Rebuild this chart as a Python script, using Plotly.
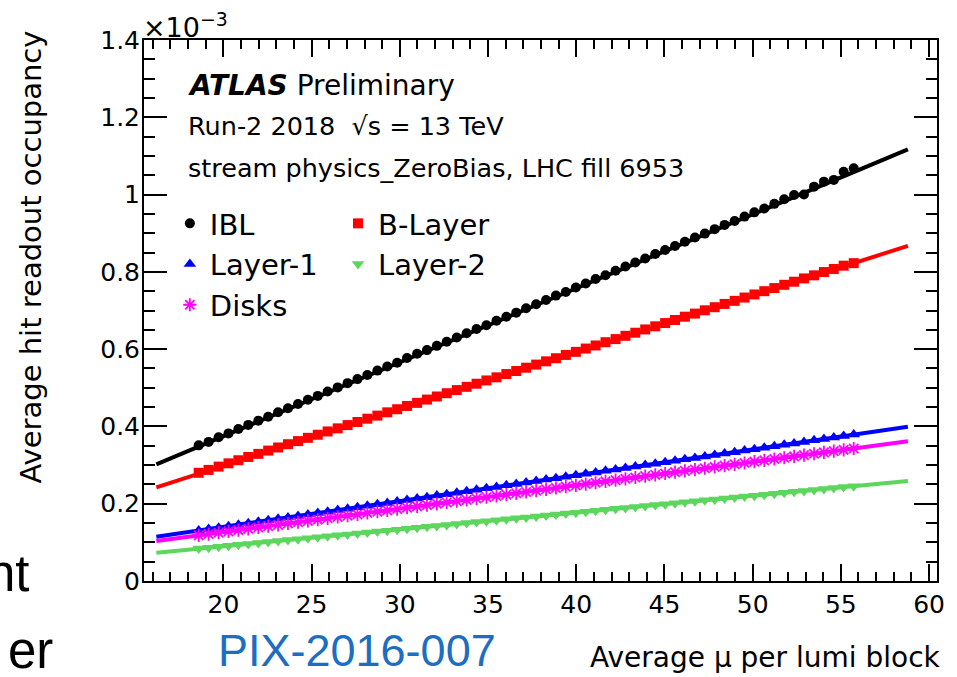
import plotly.graph_objects as go

# Average pile-up per luminosity block (bin centres)
mu = [
    18.60, 19.16, 19.73, 20.29, 20.85, 21.41, 21.98, 22.54, 23.10, 23.66,
    24.23, 24.79, 25.35, 25.91, 26.48, 27.04, 27.60, 28.16, 28.73, 29.29,
    29.85, 30.41, 30.98, 31.54, 32.10, 32.66, 33.23, 33.79, 34.35, 34.91,
    35.48, 36.04, 36.60, 37.16, 37.73, 38.29, 38.85, 39.41, 39.98, 40.54,
    41.10, 41.66, 42.23, 42.79, 43.35, 43.91, 44.48, 45.04, 45.60, 46.16,
    46.73, 47.29, 47.85, 48.41, 48.98, 49.54, 50.10, 50.66, 51.23, 51.79,
    52.35, 52.91, 53.48, 54.04, 54.60, 55.16, 55.73,
]

# Average hit readout occupancy, in units of 1e-3
occ_ibl = [
    0.3510, 0.3600, 0.3720, 0.3820, 0.3935, 0.4040, 0.4150, 0.4250, 0.4365, 0.4470,
    0.4580, 0.4690, 0.4790, 0.4905, 0.5010, 0.5120, 0.5225, 0.5330, 0.5445, 0.5550,
    0.5650, 0.5770, 0.5880, 0.5975, 0.6085, 0.6190, 0.6300, 0.6410, 0.6520, 0.6620,
    0.6735, 0.6840, 0.6945, 0.7060, 0.7160, 0.7270, 0.7385, 0.7480, 0.7595, 0.7700,
    0.7815, 0.7910, 0.8030, 0.8140, 0.8240, 0.8345, 0.8460, 0.8565, 0.8670, 0.8780,
    0.8890, 0.8990, 0.9105, 0.9215, 0.9315, 0.9430, 0.9540, 0.9640, 0.9760, 0.9880,
    0.9990, 1.0000, 1.0205, 1.0335, 1.0380, 1.0590, 1.0680,
]
occ_blayer = [
    0.2800, 0.2875, 0.2960, 0.3045, 0.3125, 0.3210, 0.3290, 0.3375, 0.3455, 0.3540,
    0.3620, 0.3705, 0.3785, 0.3870, 0.3950, 0.4035, 0.4115, 0.4200, 0.4280, 0.4365,
    0.4445, 0.4530, 0.4610, 0.4695, 0.4775, 0.4860, 0.4940, 0.5025, 0.5105, 0.5190,
    0.5270, 0.5355, 0.5435, 0.5520, 0.5600, 0.5685, 0.5765, 0.5850, 0.5930, 0.6015,
    0.6095, 0.6180, 0.6260, 0.6345, 0.6425, 0.6510, 0.6590, 0.6675, 0.6755, 0.6840,
    0.6920, 0.7005, 0.7085, 0.7170, 0.7250, 0.7335, 0.7415, 0.7500, 0.7580, 0.7665,
    0.7745, 0.7830, 0.7910, 0.7995, 0.8075, 0.8160, 0.8225,
]
occ_layer1 = [
    0.1310, 0.1345, 0.1380, 0.1420, 0.1455, 0.1495, 0.1535, 0.1570, 0.1610, 0.1645,
    0.1685, 0.1720, 0.1760, 0.1795, 0.1835, 0.1870, 0.1910, 0.1945, 0.1985, 0.2020,
    0.2060, 0.2095, 0.2135, 0.2170, 0.2210, 0.2245, 0.2285, 0.2320, 0.2360, 0.2400,
    0.2435, 0.2475, 0.2510, 0.2550, 0.2585, 0.2625, 0.2660, 0.2700, 0.2735, 0.2775,
    0.2810, 0.2850, 0.2885, 0.2925, 0.2960, 0.3000, 0.3035, 0.3075, 0.3110, 0.3150,
    0.3185, 0.3225, 0.3260, 0.3300, 0.3335, 0.3375, 0.3410, 0.3450, 0.3485, 0.3525,
    0.3560, 0.3600, 0.3640, 0.3675, 0.3715, 0.3750, 0.3790,
]
occ_disks = [
    0.1180, 0.1215, 0.1250, 0.1283, 0.1318, 0.1350, 0.1385, 0.1420, 0.1453, 0.1488,
    0.1520, 0.1555, 0.1590, 0.1623, 0.1658, 0.1690, 0.1725, 0.1760, 0.1795, 0.1828,
    0.1862, 0.1895, 0.1930, 0.1965, 0.1998, 0.2032, 0.2066, 0.2100, 0.2134, 0.2168,
    0.2203, 0.2237, 0.2270, 0.2304, 0.2339, 0.2373, 0.2407, 0.2441, 0.2475, 0.2509,
    0.2543, 0.2577, 0.2611, 0.2645, 0.2679, 0.2713, 0.2748, 0.2782, 0.2816, 0.2849,
    0.2884, 0.2918, 0.2952, 0.2986, 0.3020, 0.3054, 0.3088, 0.3122, 0.3157, 0.3190,
    0.3224, 0.3258, 0.3293, 0.3327, 0.3361, 0.3395, 0.3429,
]
occ_layer2 = [
    0.0838, 0.0862, 0.0887, 0.0911, 0.0936, 0.0960, 0.0985, 0.1009, 0.1034, 0.1058,
    0.1083, 0.1107, 0.1132, 0.1156, 0.1181, 0.1205, 0.1230, 0.1254, 0.1279, 0.1303,
    0.1328, 0.1352, 0.1377, 0.1401, 0.1426, 0.1450, 0.1475, 0.1499, 0.1524, 0.1548,
    0.1573, 0.1597, 0.1622, 0.1646, 0.1671, 0.1695, 0.1720, 0.1744, 0.1769, 0.1793,
    0.1818, 0.1842, 0.1867, 0.1891, 0.1916, 0.1940, 0.1965, 0.1989, 0.2013, 0.2038,
    0.2063, 0.2087, 0.2111, 0.2136, 0.2161, 0.2185, 0.2209, 0.2234, 0.2259, 0.2283,
    0.2307, 0.2332, 0.2357, 0.2381, 0.2405, 0.2430, 0.2454,
]

# Linear fits, evaluated at the ends of the fit range
fit_mu = [16.2, 58.8]
fit_ibl = [0.302, 1.117]
fit_blayer = [0.2425, 0.8674]
fit_layer1 = [0.1147, 0.3994]
fit_disks = [0.1035, 0.3615]
fit_layer2 = [0.0733, 0.2588]

FONT = "DejaVu Sans"
GREEN = "#5cd65c"

# figure geometry (pixels)
W, H = 957, 677
ML, MR, MT, MB = 144, 16, 40, 96
PW, PH = W - ML - MR, H - MT - MB


def px_x(px):
    return (px - ML) / PW


def px_y(py):
    return (H - MB - py) / PH


series = [
    # name, values, fit, colour, symbol, marker size, legend
    ("IBL", occ_ibl, fit_ibl, "black", "circle", 10, "legend"),
    ("B-Layer", occ_blayer, fit_blayer, "#ff0000", "square", 10, "legend2"),
    ("Layer-1", occ_layer1, fit_layer1, "#0000ff", "triangle-up", 11, "legend"),
    ("Layer-2", occ_layer2, fit_layer2, GREEN, "triangle-down", 11, "legend2"),
    ("Disks", occ_disks, fit_disks, "#ff00ff", "asterisk-open", 11, "legend"),
]

fig = go.Figure()

for name, vals, fit, col, sym, size, leg in series:
    fig.add_trace(go.Scatter(
        x=fit_mu, y=fit, mode="lines",
        line=dict(color=col, width=4),
        showlegend=False, hoverinfo="skip",
    ))

for name, vals, fit, col, sym, size, leg in series:
    marker = dict(symbol=sym, size=size, color=col)
    if sym == "asterisk-open":
        marker["line"] = dict(color=col, width=1.8)
    fig.add_trace(go.Scatter(
        x=mu, y=vals, mode="markers", name=name,
        marker=marker, legend=leg,
    ))

axis_common = dict(
    showgrid=False, zeroline=False,
    showline=True, linecolor="black", linewidth=2,
    mirror="ticks", ticks="inside", tickcolor="black", tickwidth=2,
    tickfont=dict(family=FONT, size=25, color="black"),
)

fig.update_xaxes(
    range=[15.5, 60.45], tickmode="linear", tick0=20, dtick=5, ticklen=17,
    minor=dict(ticks="inside", dtick=1, tick0=20, ticklen=9, tickwidth=2, tickcolor="black"),
    ticklabelstandoff=0,
    **axis_common,
)
fig.update_yaxes(
    range=[0, 1.4], tickmode="linear", tick0=0, dtick=0.2, ticklen=23,
    minor=dict(ticks="inside", dtick=0.05, tick0=0, ticklen=11, tickwidth=2, tickcolor="black"),
    ticklabelstandoff=-3,
    **axis_common,
)

annotations = [
    dict(text="<b><i>ATLAS</i></b> Preliminary", x=px_x(186), y=px_y(85),
         xanchor="left", yanchor="middle", font=dict(family=FONT, size=28)),
    dict(text="Run-2 2018  √s = 13 TeV", x=px_x(186), y=px_y(126),
         xanchor="left", yanchor="middle", font=dict(family=FONT, size=25.5)),
    dict(text="stream physics_ZeroBias, LHC fill 6953", x=px_x(186), y=px_y(168),
         xanchor="left", yanchor="middle", font=dict(family=FONT, size=25.5)),
    dict(text="×10<sup>−3</sup>", x=px_x(141), y=px_y(25),
         xanchor="left", yanchor="middle", font=dict(family=FONT, size=27)),
    dict(text="Average hit readout occupancy", x=px_x(30), y=px_y(257),
         xanchor="center", yanchor="middle", textangle=-90,
         font=dict(family=FONT, size=29)),
    dict(text="Average μ per lumi block", x=px_x(947), y=px_y(657),
         xanchor="right", yanchor="middle", font=dict(family=FONT, size=28)),
    dict(text="PIX-2016-007", x=px_x(216), y=px_y(650),
         xanchor="left", yanchor="middle",
         font=dict(family="Liberation Sans", size=45, color="#1b6ec2")),
    dict(text="nt", x=px_x(31), y=px_y(573),
         xanchor="right", yanchor="middle",
         font=dict(family="Liberation Sans", size=51)),
    dict(text="er", x=px_x(55), y=px_y(650),
         xanchor="right", yanchor="middle",
         font=dict(family="Liberation Sans", size=51)),
]
for a in annotations:
    a.update(xref="paper", yref="paper", showarrow=False)
    a["font"].setdefault("color", "black")

legend_style = dict(
    bgcolor="rgba(0,0,0,0)", borderwidth=0,
    font=dict(family=FONT, size=29, color="black"),
    xanchor="left", yanchor="top", tracegroupgap=0,
)

fig.update_layout(
    width=W, height=H,
    margin=dict(l=ML, r=MR, t=MT, b=MB, pad=0),
    paper_bgcolor="white", plot_bgcolor="white",
    annotations=annotations,
    legend=dict(x=px_x(170), y=px_y(198), **legend_style),
    legend2=dict(x=px_x(339), y=px_y(198), **legend_style),
)

fig.write_html("out.html")
